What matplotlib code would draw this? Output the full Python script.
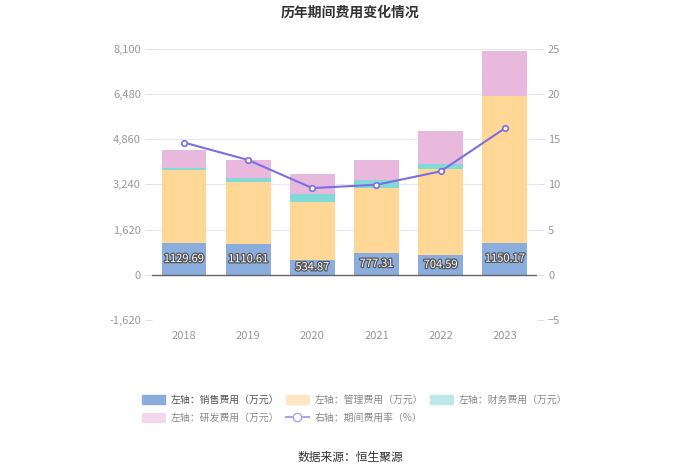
import numpy as np
import matplotlib
matplotlib.use("Agg")
import matplotlib.pyplot as plt
import matplotlib.patheffects as pe
from matplotlib.lines import Line2D
from matplotlib.patches import Patch

plt.rcParams["font.family"] = ["Noto Sans CJK SC", "DejaVu Sans"]

years = ["2018", "2019", "2020", "2021", "2022", "2023"]
sales = [1129.69, 1110.61, 534.87, 777.31, 704.59, 1150.17]
admin = [2640, 2200, 2057, 2330, 3075, 5270]
finance = [58, 156, 300, 288, 204, 0]
rnd = [662, 648, 720, 720, 1176, 1596]
rate = [14.63, 12.7, 9.59, 9.96, 11.44, 16.2]

left_ticks = [-1620, 0, 1620, 3240, 4860, 6480, 8100]
right_ticks = [-5, 0, 5, 10, 15, 20, 25]

c_sales = "#8badde"
c_admin = "#ffd796"
c_fin = "#83d8d8"
c_rnd = "#e8b9dd"
c_line = "#7a6fe3"
grey = "#999999"

fig = plt.figure(figsize=(7, 4.74), dpi=100)
ax = fig.add_axes([0.217, 0.325, 0.55, 0.572])
ax2 = ax.twinx()

x = np.arange(len(years))
w = 0.7
sales = np.array(sales)
admin = np.array(admin)
finance = np.array(finance)
rnd = np.array(rnd)

ax.bar(x, sales, w, color=c_sales, zorder=2)
ax.bar(x, admin, w, bottom=sales, color=c_admin, zorder=2)
ax.bar(x, finance, w, bottom=sales + admin, color=c_fin, zorder=2)
ax.bar(x, rnd, w, bottom=sales + admin + finance, color=c_rnd, zorder=2)

for xi, v in zip(x, sales):
    ax.text(xi, v / 2, f"{v:.2f}", ha="center", va="center", fontsize=8,
            color="white", zorder=5,
            path_effects=[pe.withStroke(linewidth=1.8, foreground="#555555")])

ax.set_ylim(-1620, 8100)
ax.set_yticks(left_ticks)
ax.set_yticklabels([f"{t:,}" for t in left_ticks])
ax.set_xlim(-0.5, len(years) - 0.5)
ax.set_xticks(x)
ax.set_xticklabels(years)
ax.grid(axis="y", color="#e6e8f0", lw=0.8, zorder=0)
ax.axhline(0, color="#666666", lw=1, zorder=3)
for s in ["top", "right", "left", "bottom"]:
    ax.spines[s].set_visible(False)
ax.tick_params(axis="y", colors=grey, labelsize=8, length=5, width=0.6,
               color="#dddddd", pad=3)
ax.tick_params(axis="x", colors=grey, labelsize=8, length=0, pad=8)
ax.set_axisbelow(True)

ax2.plot(x, rate, color=c_line, lw=1.5, marker="o", ms=4,
         mfc="white", mec=c_line, mew=1.2, zorder=6)
ax2.set_ylim(-5, 25)
ax2.set_yticks(right_ticks)
for s in ["top", "right", "left", "bottom"]:
    ax2.spines[s].set_visible(False)
ax2.tick_params(axis="y", colors=grey, labelsize=8, length=5, width=0.6,
                color="#dddddd", pad=3)

fig.text(0.5, 0.973, "历年期间费用变化情况", ha="center", va="center",
         fontsize=10, fontweight="bold", color="#333333")
fig.text(0.5, 0.034, "数据来源：恒生聚源", ha="center", va="center",
         fontsize=8.5, color="#333333")

# legend filled column by column, so order gives rows: sales admin finance / rnd rate
h_sales = Patch(color=c_sales, label="左轴：销售费用（万元）")
h_admin = Patch(color="#ffe6c2", label="左轴：管理费用（万元）")
h_fin = Patch(color="#bde9ea", label="左轴：财务费用（万元）")
h_rnd = Patch(color="#f2d8ec", label="左轴：研发费用（万元）")
h_rate = Line2D([0], [0], color="#aaa6ee", lw=1.5, marker="o", ms=6,
                mfc="white", mec="#aaa6ee", label="右轴：期间费用率（%）")
handles = [h_sales, h_rnd, h_admin, h_rate, h_fin]
leg = fig.legend(handles=handles, loc="upper left", bbox_to_anchor=(0.19, 0.185),
                 ncol=3, frameon=False, fontsize=7.1, handlelength=2.3,
                 handleheight=1.0, columnspacing=0.7, labelspacing=0.8,
                 handletextpad=0.6)
for t in leg.get_texts():
    t.set_color("#888888")
leg.get_texts()[0].set_color("#555555")

fig.savefig("out.png", dpi=100)
